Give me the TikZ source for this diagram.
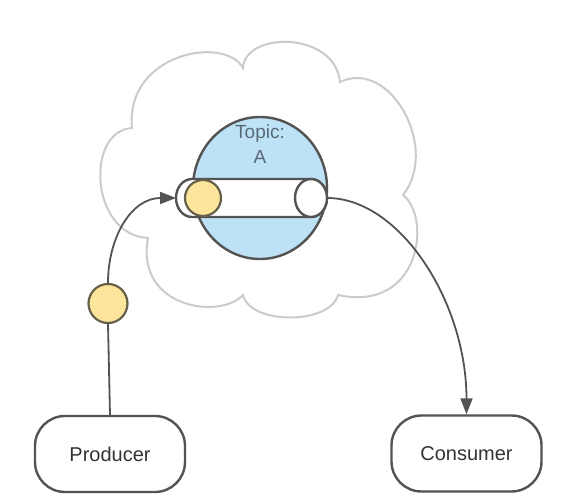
\documentclass[tikz,border=0pt]{standalone}
\usepackage{fontspec}
\setmainfont{Liberation Sans}
\usetikzlibrary{arrows.meta,shapes.geometric}
\definecolor{linec}{HTML}{535353}
\definecolor{cloudc}{HTML}{CBCBCB}
\definecolor{topicfill}{RGB}{190,226,245}
\definecolor{msgfill}{HTML}{FDE59B}
\definecolor{msgline}{HTML}{66604A}
\definecolor{txtc}{HTML}{333333}
\definecolor{topictxt}{HTML}{5A6A78}
\begin{document}
\begin{tikzpicture}[x=1pt,y=1pt,
  cloudline/.style={draw=cloudc,line width=2pt,fill=white},
  topicshape/.style={draw=linec,line width=2.4pt,fill=topicfill,ellipse,inner sep=0pt,minimum width=134pt,minimum height=142pt},
  cylline/.style={draw=linec,line width=2.4pt,fill=white},
  msg/.style={draw=msgline,line width=2.2pt,fill=msgfill,circle,inner sep=0pt},
  box/.style={draw=linec,line width=2.4pt,rounded corners=30pt,minimum width=150pt,minimum height=76pt,inner sep=0pt,text=txtc,font=\fontsize{20}{24}\selectfont},
  conn/.style={draw=linec,line width=1.8pt},
  tip/.style={-{Triangle[length=16pt,width=12pt]}}]
\useasboundingbox (0,0) rectangle (567,503);
% cloud
\path[cloudline] (132,375)
  .. controls (125,450) and (225,468) .. (243,435)
  .. controls (245,472) and (335,472) .. (340,421)
  .. controls (390,445) and (440,355) .. (403,308)
  .. controls (432,285) and (420,190) .. (338,208)
  .. controls (330,178) and (250,178) .. (243,208)
  .. controls (220,183) and (135,195) .. (148,265)
  .. controls (90,268) and (85,372) .. cycle;
% topic
\node[topicshape] (topic) at (260,315) {};
\node[text=topictxt,align=center,font=\fontsize{19}{25}\selectfont] (topiclbl) at (260,359) {Topic:\\A};
% cylinder
\path[cylline] (192,324) -- (311,324) arc[start angle=90,end angle=-90,x radius=16,y radius=19]
  -- (192,286) arc[start angle=270,end angle=90,x radius=16,y radius=19] -- cycle;
\path[cylline] (311,305) ellipse[x radius=16,y radius=19];
\coordinate (cylL) at (176,305);
\coordinate (cylR) at (327,305);
% messages
\node[msg,minimum size=36pt] (m1) at (203,305) {};
\node[msg,minimum size=39pt] (m2) at (108,199.5) {};
% boxes
\node[box] (prod) at (110,49) {Producer};
\node[box] (cons) at (466.5,49.5) {Consumer};
% connectors
\draw[conn] (prod.north) -- (m2.south);
\draw[conn,tip] (m2.north) to[out=90,in=180,out distance=45pt,in distance=45pt] (cylL);
\draw[conn,tip] (cylR) to[out=0,in=90,out distance=73pt,in distance=112pt] (cons.north);
\end{tikzpicture}
\end{document}
